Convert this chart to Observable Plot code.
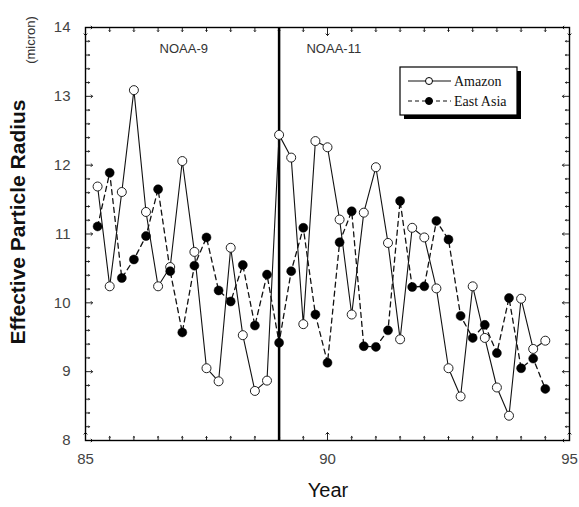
<!DOCTYPE html>
<html><head><meta charset="utf-8">
<script src="https://cdn.jsdelivr.net/npm/d3@7"></script>
<script src="https://cdn.jsdelivr.net/npm/@observablehq/plot@0.6"></script>
<style>body{margin:0;background:#fff;font-family:"Liberation Sans",Arial,sans-serif}</style>
</head><body><div id="chart"></div>
<script>
const years = [85.25,85.5,85.75,86.0,86.25,86.5,86.75,87.0,87.25,87.5,87.75,88.0,88.25,88.5,88.75,89.0,89.25,89.5,89.75,90.0,
  90.25,90.5,90.75,91.0,91.25,91.5,91.75,92.0,92.25,92.5,92.75,93.0,93.25,93.5,93.75,94.0,94.25,94.5];
const amazon = [11.69,10.24,11.61,13.09,11.32,10.24,10.52,12.06,10.74,9.05,8.86,10.80,9.53,8.72,8.87,12.44,12.11,9.69,12.35,12.26,
  11.21,9.83,11.31,11.97,10.87,9.47,11.09,10.95,10.21,9.05,8.64,10.24,9.49,8.77,8.36,10.06,9.33,9.45];
const eastAsia = [11.11,11.89,10.36,10.63,10.97,11.65,10.46,9.57,10.54,10.95,10.18,10.02,10.55,9.67,10.41,9.42,10.46,11.09,9.83,9.13,
  10.88,11.33,9.37,9.36,9.60,11.48,10.23,10.24,11.19,10.92,9.81,9.49,9.68,9.27,10.07,9.05,9.19,8.75];
const seriesNames = ["Amazon","East Asia"];
const xMajor = [85,90,95];
const xMinor = [85.5,86,86.5,87,87.5,88,88.5,89,89.5,90.5,91,91.5,92,92.5,93,93.5,94,94.5];
const yMajor = [8,9,10,11,12,13,14];
const yMinor = [8.2,8.4,8.6,8.8,9.2,9.4,9.6,9.8,10.2,10.4,10.6,10.8,11.2,11.4,11.6,11.8,12.2,12.4,12.6,12.8,13.2,13.4,13.6,13.8];
const satBoundary = [89];
const satellites = [{name:"NOAA-9", x:87.03, y:13.69},{name:"NOAA-11", x:90.13, y:13.69}];

const amazonData = years.map((x,i)=>({x, y: amazon[i]}));
const eastData = years.map((x,i)=>({x, y: eastAsia[i]}));

const font = '"Liberation Sans", Arial, sans-serif';
const tickCol = "#222";
const xT = (ticks, len) => [
  Plot.vector(ticks, {x: d=>d, y: () => 8, length: len, rotate: 0, anchor: "start", stroke: tickCol, strokeWidth: 1}),
  Plot.vector(ticks, {x: d=>d, y: () => 14, length: len, rotate: 180, anchor: "start", stroke: tickCol, strokeWidth: 1})
];
const yT = (ticks, len) => [
  Plot.vector(ticks, {y: d=>d, x: () => 85, length: len, rotate: 90, anchor: "start", stroke: tickCol, strokeWidth: 1}),
  Plot.vector(ticks, {y: d=>d, x: () => 95, length: len, rotate: -90, anchor: "start", stroke: tickCol, strokeWidth: 1})
];
const plot = Plot.plot({
  width: 579, height: 507,
  marginLeft: 85, marginRight: 10, marginTop: 27, marginBottom: 67,
  style: {fontFamily: font, background: "#fff", overflow: "visible"},
  x: {domain: [85,95]},
  y: {domain: [8,14]},
  marks: [
    Plot.axisX({anchor:"bottom", ticks: xMajor, tickSize: 0, tickPadding: 13, fontSize: 15, fill: "#444", tickFormat: d=>String(d), label: null}),
    Plot.axisY({anchor:"left", ticks: yMajor, tickSize: 0, tickPadding: 15, fontSize: 15, fill: "#444", tickFormat: d=>String(d), label: null}),
    ...xT(xMajor, 8), ...xT(xMinor, 4),
    ...yT(yMajor, 7), ...yT(yMinor, 4),
    Plot.ruleX(satBoundary, {stroke: "#000", strokeWidth: 2.5}),
    Plot.text(satellites, {x:"x", y:"y", text:"name", fontSize: 13, fill: "#333"}),
    Plot.line(eastData, {x:"x", y:"y", stroke:"#111", strokeWidth: 1.3, strokeDasharray: "5,4"}),
    Plot.line(amazonData, {x:"x", y:"y", stroke:"#111", strokeWidth: 1.1}),
    Plot.dot(amazonData, {x:"x", y:"y", r: 4.5, fill:"#fff", stroke:"#222", strokeWidth: 1}),
    Plot.dot(eastData, {x:"x", y:"y", r: 4.5, fill:"#000", stroke: "#000", strokeWidth: 0.5}),
    Plot.frame({stroke:"#000", strokeWidth: 1.4})
  ]
});
document.getElementById("chart").appendChild(plot);

const svg = d3.select(plot);
svg.append("text").attr("transform","translate(25,222) rotate(-90)").attr("text-anchor","middle")
  .attr("font-family",font).attr("font-size",21).attr("font-weight","bold").attr("fill","#111").text("Effective Particle Radius");
svg.append("text").attr("transform","translate(35,40) rotate(-90)").attr("text-anchor","middle")
  .attr("font-family",font).attr("font-size",13).attr("fill","#333").text("(micron)");
svg.append("text").attr("x",328).attr("y",497).attr("text-anchor","middle")
  .attr("font-family",font).attr("font-size",20).attr("fill","#111").text("Year");

// legend
const lg = svg.append("g").attr("transform","translate(400,67)");
lg.append("rect").attr("x",4).attr("y",4).attr("width",117).attr("height",48).attr("fill","#000");
lg.append("rect").attr("x",0).attr("y",0).attr("width",117).attr("height",48).attr("fill","#fff").attr("stroke","#000").attr("stroke-width",1.2);
const rows = [{name: seriesNames[0], dash: null, fill:"#fff"},{name: seriesNames[1], dash:"4,3", fill:"#000"}];
rows.forEach((r,i)=>{
  const y = 14 + i*20;
  lg.append("line").attr("x1",8).attr("x2",51).attr("y1",y).attr("y2",y).attr("stroke","#111")
    .attr("stroke-width",1.1).attr("stroke-dasharray", r.dash);
  lg.append("circle").attr("cx",29).attr("cy",y).attr("r",3.5).attr("fill",r.fill).attr("stroke","#000");
  lg.append("text").attr("x",54).attr("y",y+4.5).attr("text-anchor","start").attr("font-family",'"Liberation Serif","Times New Roman",serif')
    .attr("font-size",14).attr("fill","#111").text(r.name);
});
</script></body></html>
